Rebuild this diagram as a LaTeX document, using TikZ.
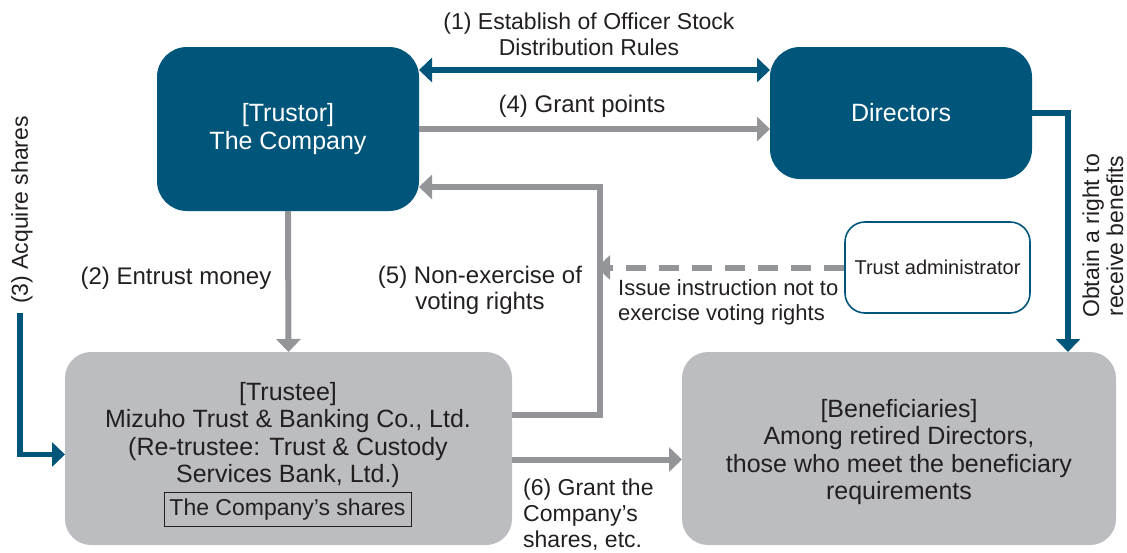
\documentclass[tikz,border=0pt]{standalone}
\usepackage{fontspec}
\setmainfont{Liberation Sans}
\usetikzlibrary{arrows.meta}
\definecolor{navy}{HTML}{00557A}
\definecolor{boxgray}{HTML}{BCBDC0}
\definecolor{arrowgray}{HTML}{939598}
\definecolor{ink}{HTML}{231F20}
\begin{document}
\begin{tikzpicture}[x=1pt, y=-1pt,
    txt/.style={text=ink, align=center, inner sep=0pt, font=\fontsize{23}{26}\selectfont},
    boxtxt/.style={txt, font=\fontsize{25}{27.5}\selectfont},
    bluebox/.style={boxtxt, fill=navy, text=white, rounded corners=30pt, outer sep=0pt},
    graybox/.style={txt, fill=boxgray, rounded corners=26pt, outer sep=0pt},
    adminbox/.style={txt, fill=white, draw=navy, line width=1.6pt, rounded corners=20pt, font=\fontsize{20}{24}\selectfont},
    navyline/.style={draw=navy, line width=5.5pt, -{Triangle[width=24pt,length=13pt]}},
    grayline/.style={draw=arrowgray, line width=6pt, -{Triangle[width=24pt,length=13pt]}}]

    \useasboundingbox (0,0) rectangle (1127,552);

    % boxes
    \node[bluebox, minimum width=262pt, minimum height=164pt] (trustor) at (288,129) {[Trustor]\\The Company};
    \node[bluebox, minimum width=262pt, minimum height=132pt] (directors) at (901,113) {Directors};
    \node[adminbox, minimum width=185pt, minimum height=91pt] (admin) at (937.5,267.5) {Trust administrator};
    \node[graybox, minimum width=447pt, minimum height=193pt] (trustee) at (288.5,448.5) {};
    \node[graybox, minimum width=434pt, minimum height=193pt] (benef) at (899,448.5) {};
    \node[boxtxt] (trusteetxt) at (288,435)
        {[Trustee]\\Mizuho Trust \& Banking Co., Ltd.\\(Re-trustee: Trust \& Custody\\Services Bank, Ltd.)};
    \node[txt, draw=ink, line width=1pt, minimum width=247pt, minimum height=34pt] (shares) at (287.5,509.5) {The Company’s shares};
    \node[boxtxt] (beneftxt) at (899,452)
        {[Beneficiaries]\\Among retired Directors,\\those who meet the beneficiary\\requirements};

    % connectors
    \coordinate (vote) at (600,187);
    \coordinate (buy) at (20,313);
    \draw[navyline, {Triangle[width=24pt,length=13pt]}-{Triangle[width=24pt,length=13pt]}]
        ([yshift=59pt]trustor.east) -- ([yshift=59pt]trustor.east -| directors.west);
    \draw[grayline] (trustor.east) -- (trustor.east -| directors.west);
    \draw[grayline] (trustor.south) -- (trustee.north);
    \draw[grayline] ([yshift=34pt]trustee.east) -| (vote) -- (vote -| trustor.east);
    \draw[grayline, dash pattern=on 20pt off 13pt, shorten >=-3pt] (admin.west) -- (admin.west -| vote);
    \draw[grayline] ([yshift=-11pt]trustee.east) -- ([yshift=-11pt]trustee.east -| benef.west);
    \draw[navyline] (buy) |- ([yshift=-6pt]trustee.west);
    \draw[navyline] (directors.east) -| ([xshift=169pt]benef.north);

    % labels
    \node[txt] (l1) at (589,34) {(1) Establish of Officer Stock\\Distribution Rules};
    \node[txt, font=\fontsize{24}{26}\selectfont] (l4) at (582,106) {(4) Grant points};
    \node[txt, font=\fontsize{24}{26}\selectfont] (l2) at (176,278) {(2) Entrust money};
    \node[txt, font=\fontsize{24}{26}\selectfont] (l5) at (480,290) {(5) Non-exercise of\\voting rights};
    \node[txt, align=left, anchor=west, font=\fontsize{22}{25}\selectfont] (l5b) at (618,302) {Issue instruction not to\\exercise voting rights};
    \node[txt, rotate=90] (l3) at (22,210) {(3) Acquire shares};
    \node[txt, rotate=90, font=\fontsize{23}{24}\selectfont] (l7) at (1103,236) {Obtain a right to\\receive benefits};
    \node[txt, align=left, anchor=west] (l6) at (523,515) {(6) Grant the\\Company’s\\shares, etc.};

\end{tikzpicture}
\end{document}
